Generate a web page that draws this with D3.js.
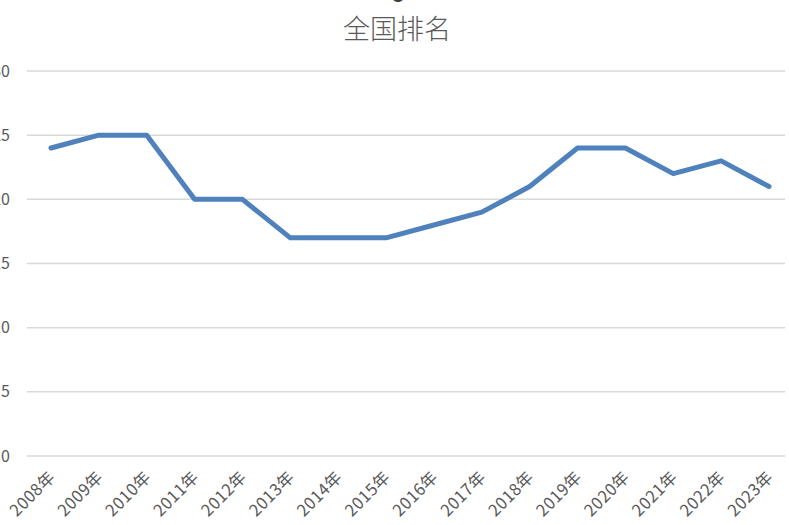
<!DOCTYPE html>
<html>
<head>
<meta charset="utf-8">
<script src="https://cdn.jsdelivr.net/npm/d3@7"></script>
<style>
  body { margin: 0; background: #fff; }
  svg text { font-family: "Noto Sans CJK SC", "Open Sans", sans-serif; }
</style>
</head>
<body>
<svg width="789" height="525"></svg>
<script>
// Data
var years = ["2008年", "2009年", "2010年", "2011年", "2012年", "2013年", "2014年", "2015年",
             "2016年", "2017年", "2018年", "2019年", "2020年", "2021年", "2022年", "2023年"];
var ranks = [24, 25, 25, 20, 20, 17, 17, 17, 18, 19, 21, 24, 24, 22, 23, 21];
var yTicks = [0, 5, 10, 15, 20, 25, 30];

var svg = d3.select("svg"),
    width = +svg.attr("width"),
    height = +svg.attr("height");

var x = d3.scalePoint()
    .domain(years)
    .range([51, 769]);

var y = d3.scaleLinear()
    .domain([0, 30])
    .range([456, 71]);

// title (the chart is cropped, a bit of a glyph above it is still visible)
svg.append("text")
    .attr("x", 398)
    .attr("y", 2)
    .attr("text-anchor", "middle")
    .attr("font-size", 24)
    .attr("font-weight", 700)
    .attr("fill", "#404040")
    .text("o");
svg.append("text")
    .attr("x", 397)
    .attr("y", 39)
    .attr("text-anchor", "middle")
    .attr("font-size", 27)
    .attr("font-weight", 300)
    .attr("fill", "#595959")
    .text("全国排名");

// gridlines
svg.append("g")
    .selectAll("line")
    .data(yTicks)
    .enter()
    .append("line")
    .attr("x1", 27)
    .attr("x2", 785)
    .attr("y1", function (d) { return y(d); })
    .attr("y2", function (d) { return y(d); })
    .attr("stroke", "#d9d9d9")
    .attr("stroke-width", 1.5);

// y labels, pushed off the left edge like the cropped original
svg.append("g")
    .selectAll("text")
    .data(yTicks)
    .enter()
    .append("text")
    .attr("x", 10)
    .attr("y", function (d) { return y(d); })
    .attr("dy", "0.35em")
    .attr("text-anchor", "end")
    .attr("font-size", 16)
    .attr("fill", "#595959")
    .text(function (d) { return d; });

// x labels rotated
svg.append("g")
    .selectAll("text")
    .data(years)
    .enter()
    .append("text")
    .attr("transform", function (d) { return "translate(" + (x(d) - 3) + ",470) rotate(-45)"; })
    .attr("text-anchor", "end")
    .attr("dy", "0.7em")
    .attr("font-size", 16.5)
    .attr("letter-spacing", 0.5)
    .attr("fill", "#595959")
    .text(function (d) { return d; });

// the line
var line = d3.line()
    .x(function (d, i) { return x(years[i]); })
    .y(function (d) { return y(d); });

svg.append("path")
    .datum(ranks)
    .attr("d", line)
    .attr("fill", "none")
    .attr("stroke", "#4f81bd")
    .attr("stroke-width", 5)
    .attr("stroke-linejoin", "round")
    .attr("stroke-linecap", "round");
</script>
</body>
</html>
